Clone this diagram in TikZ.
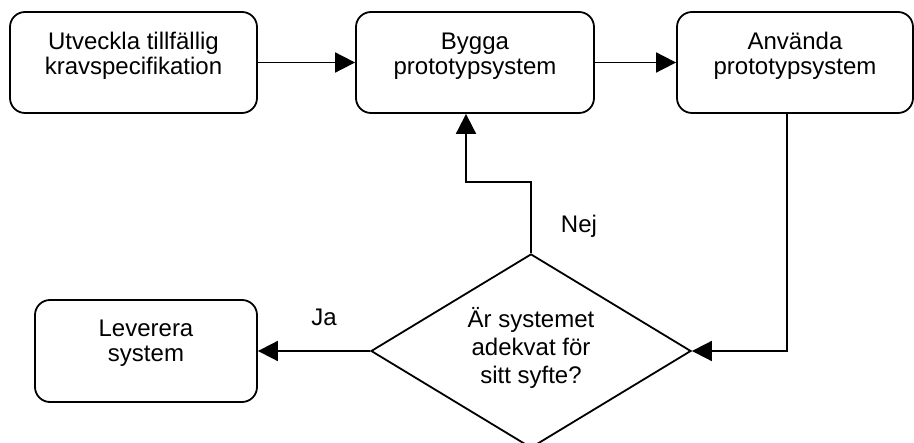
\documentclass[tikz,border=0pt]{standalone}
\usepackage{fontspec}
\setmainfont{Liberation Sans}
\usetikzlibrary{shapes.geometric,arrows.meta}

\tikzset{
  proc/.style={draw, line width=1.8pt, rounded corners=15pt, inner sep=0pt,
               minimum height=101pt},
  decision/.style={draw, diamond, line width=1.8pt, inner sep=0pt,
                   minimum width=320pt, minimum height=194pt},
  % multi-line text is placed by the baseline of its last line
  boxtext/.style={font=\fontsize{24}{25}\selectfont, align=center,
                  anchor=base, inner sep=0pt},
  qtext/.style={boxtext, font=\fontsize{24}{28}\selectfont},
  edgelabel/.style={font=\fontsize{24}{26}\selectfont, anchor=base, inner sep=0pt},
  flow/.style={line width=1.8pt, -{Triangle[length=20pt,width=20pt]}},
}

\begin{document}
\begin{tikzpicture}[x=1pt, y=-1pt]
  \useasboundingbox (0,0) rectangle (914,443);
  \clip (0,0) rectangle (914,443);

  % process boxes
  \node[proc, minimum width=247pt] (spec)  at (133.5,62.5) {};
  \node[proc, minimum width=238pt] (build) at (475,62.5) {};
  \node[proc, minimum width=236pt] (use)   at (795,62.5) {};
  \node[proc, minimum width=222pt, minimum height=102pt] (deliver) at (146,351) {};

  % decision
  \node[decision] (ok) at (531,351) {};

  % texts inside the shapes
  \node[boxtext] (tspec)  at (133.5,75) {Utveckla tillfällig\\kravspecifikation};
  \node[boxtext] (tbuild) at (475,75) {Bygga\\prototypsystem};
  \node[boxtext] (tuse)   at (795,75) {Använda\\prototypsystem};
  \node[boxtext] (tdel)   at (146,362) {Leverera\\system};
  \node[qtext]   (tok)    at (531,384) {Är systemet\\adekvat för\\sitt syfte?};

  % bend points
  \coordinate (nejbend) at (466,182);
  \coordinate (usedown) at (787,0);

  % connectors
  \draw[flow] (spec) -- (build);
  \draw[flow] (build) -- (use);
  \draw[flow] (use.south -| usedown) |- (ok.east);
  \draw[flow] (ok.north) |- (nejbend) -- (build.south -| nejbend);
  \draw[flow] (ok.west) -- (deliver.east);

  % branch labels
  \node[edgelabel] (nej) at (579,233) {Nej};
  \node[edgelabel] (ja)  at (324,326) {Ja};
\end{tikzpicture}
\end{document}
